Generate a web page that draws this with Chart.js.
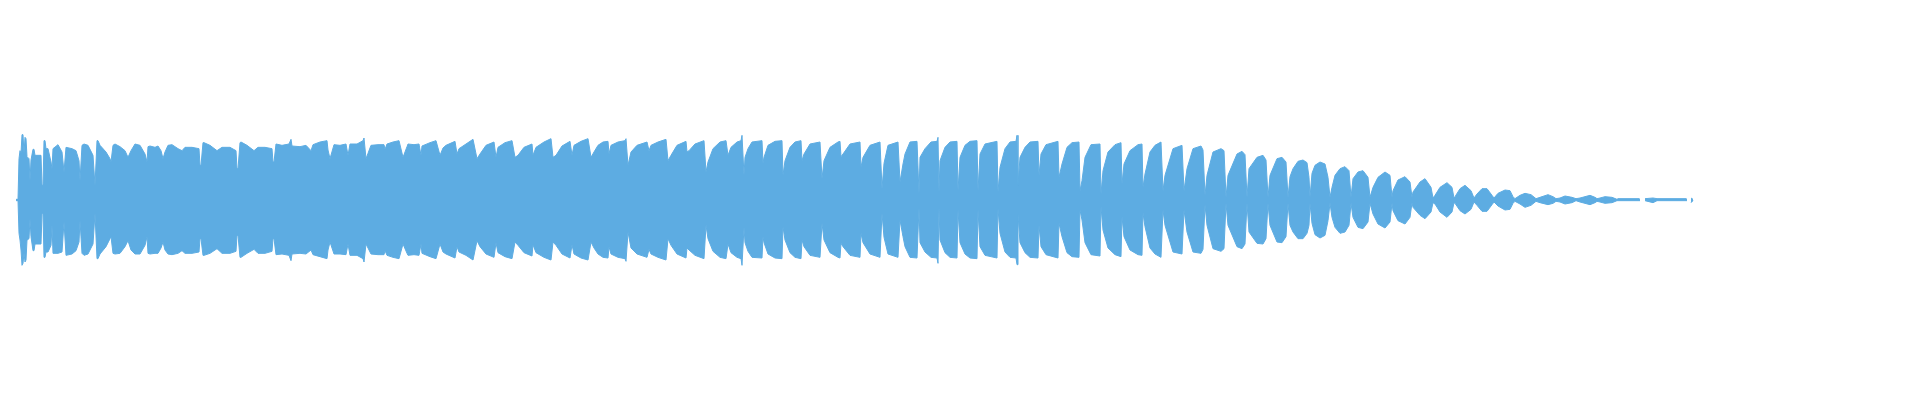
<!DOCTYPE html>
<html>
<head>
<meta charset="utf-8">
<title>Waveform</title>
<script src="https://cdn.jsdelivr.net/npm/chart.js@4/dist/chart.umd.min.js"></script>
<style>
  html, body { margin: 0; padding: 0; background: #ffffff; }
  canvas { display: block; }
</style>
</head>
<body>
<canvas id="wave" width="1920" height="400"></canvas>
<script>
// peak frames (10 ms each) with the max / min sample of each frame
const frame = [
  16, 18, 19, 20, 21, 22, 23, 24, 25, 26,
  27, 29, 30, 31, 33, 34, 35, 41, 42, 43,
  44, 45, 46, 48, 51, 52, 53, 58, 62, 64,
  66, 72, 76, 79, 80, 82, 84, 88, 93, 95,
  97, 98, 100, 106, 110, 111, 113, 115, 120, 125,
  128, 131, 135, 140, 145, 147, 148, 150, 155, 158,
  161, 163, 165, 168, 172, 178, 182, 185, 192, 199,
  200, 201, 203, 204, 210, 217, 222, 230, 236, 237,
  238, 240, 241, 247, 254, 258, 265, 272, 273, 274,
  276, 282, 289, 291, 292, 300, 306, 311, 313, 320,
  327, 328, 330, 334, 340, 346, 348, 350, 357, 363,
  364, 366, 368, 371, 378, 384, 385, 387, 393, 399,
  403, 407, 408, 414, 419, 421, 422, 430, 436, 440,
  443, 446, 455, 457, 459, 466, 473, 477, 480, 486,
  494, 496, 498, 505, 512, 515, 518, 524, 532, 533,
  536, 544, 551, 553, 556, 562, 570, 572, 574, 581,
  588, 591, 594, 598, 603, 608, 609, 611, 618, 625,
  626, 628, 631, 637, 647, 649, 651, 658, 666, 668,
  671, 677, 686, 687, 689, 695, 704, 706, 708, 713,
  720, 726, 728, 731, 737, 741, 742, 744, 745, 748,
  752, 762, 763, 764, 768, 775, 782, 783, 785, 790,
  795, 801, 802, 804, 810, 820, 822, 824, 830, 838,
  840, 841, 843, 850, 860, 861, 863, 870, 880, 882,
  884, 888, 898, 900, 903, 905, 910, 917, 919, 920,
  925, 931, 937, 938, 939, 940, 945, 950, 957, 958,
  960, 965, 970, 977, 978, 980, 985, 997, 998, 1000,
  1005, 1010, 1016, 1017, 1018, 1020, 1025, 1030, 1038, 1039,
  1041, 1046, 1058, 1059, 1062, 1067, 1072, 1079, 1080, 1082,
  1085, 1091, 1100, 1101, 1103, 1108, 1115, 1121, 1122, 1124,
  1130, 1138, 1142, 1143, 1145, 1150, 1155, 1161, 1163, 1165,
  1173, 1182, 1184, 1187, 1193, 1201, 1203, 1205, 1207, 1213,
  1221, 1224, 1226, 1228, 1237, 1242, 1245, 1247, 1249, 1257,
  1263, 1266, 1268, 1270, 1277, 1282, 1286, 1288, 1290, 1293,
  1298, 1303, 1307, 1309, 1310, 1312, 1315, 1320, 1325, 1328,
  1330, 1332, 1335, 1340, 1345, 1349, 1351, 1353, 1358, 1363,
  1368, 1370, 1373, 1378, 1385, 1390, 1392, 1393, 1398, 1405,
  1410, 1412, 1413, 1420, 1425, 1431, 1433, 1435, 1440, 1447,
  1452, 1454, 1455, 1460, 1465, 1471, 1474, 1477, 1482, 1487,
  1492, 1494, 1498, 1505, 1510, 1513, 1515, 1520, 1525, 1531,
  1536, 1540, 1548, 1553, 1556, 1560, 1565, 1572, 1576, 1580,
  1590, 1595, 1597, 1600, 1605, 1612, 1617, 1618, 1639, 1640,
  1642, 1645, 1653, 1657, 1658, 1686, 1687, 1689, 1691, 1693
];

const peakHi = [
  0.01, 0.01, 0.62, 0.74, 0.70, 0.98, 0.98, 0.70, 0.94, 0.92,
  0.65, 0.62, 0.29, 0.60, 0.76, 0.76, 0.67, 0.67, 0.22, 0.22,
  0.89, 0.89, 0.77, 0.77, 0.57, 0.47, 0.77, 0.83, 0.72, 0.42,
  0.79, 0.77, 0.74, 0.59, 0.29, 0.82, 0.84, 0.82, 0.67, 0.22,
  0.89, 0.89, 0.82, 0.72, 0.62, 0.57, 0.82, 0.84, 0.80, 0.74,
  0.64, 0.74, 0.84, 0.82, 0.69, 0.57, 0.80, 0.81, 0.79, 0.81,
  0.74, 0.62, 0.72, 0.82, 0.83, 0.77, 0.74, 0.79, 0.79, 0.77,
  0.52, 0.52, 0.86, 0.86, 0.82, 0.74, 0.79, 0.79, 0.74, 0.47,
  0.47, 0.86, 0.87, 0.82, 0.74, 0.79, 0.79, 0.77, 0.57, 0.57,
  0.84, 0.82, 0.84, 0.91, 0.81, 0.80, 0.82, 0.74, 0.83, 0.87,
  0.89, 0.75, 0.62, 0.83, 0.82, 0.84, 0.67, 0.84, 0.84, 0.89,
  0.93, 0.62, 0.70, 0.82, 0.83, 0.83, 0.76, 0.84, 0.87, 0.89,
  0.64, 0.80, 0.84, 0.83, 0.84, 0.67, 0.81, 0.86, 0.89, 0.67,
  0.78, 0.82, 0.88, 0.69, 0.77, 0.84, 0.91, 0.62, 0.69, 0.82,
  0.87, 0.64, 0.79, 0.86, 0.89, 0.64, 0.67, 0.79, 0.84, 0.67,
  0.79, 0.87, 0.92, 0.64, 0.67, 0.81, 0.88, 0.67, 0.82, 0.88,
  0.92, 0.64, 0.72, 0.82, 0.87, 0.88, 0.69, 0.82, 0.87, 0.89,
  0.92, 0.52, 0.72, 0.82, 0.87, 0.74, 0.82, 0.87, 0.91, 0.59,
  0.67, 0.82, 0.88, 0.72, 0.74, 0.84, 0.89, 0.42, 0.57, 0.77,
  0.87, 0.89, 0.67, 0.79, 0.87, 0.89, 0.97, 0.37, 0.64, 0.77,
  0.87, 0.89, 0.55, 0.64, 0.82, 0.88, 0.89, 0.37, 0.59, 0.79,
  0.87, 0.89, 0.59, 0.69, 0.84, 0.87, 0.32, 0.59, 0.79, 0.87,
  0.88, 0.65, 0.69, 0.84, 0.87, 0.49, 0.64, 0.82, 0.87, 0.17,
  0.55, 0.82, 0.87, 0.27, 0.54, 0.69, 0.87, 0.88, 0.10, 0.64,
  0.77, 0.87, 0.88, 0.94, 0.12, 0.59, 0.79, 0.87, 0.88, 0.14,
  0.64, 0.82, 0.88, 0.89, 0.14, 0.69, 0.84, 0.88, 0.12, 0.49,
  0.77, 0.87, 0.88, 0.97, 0.22, 0.64, 0.79, 0.87, 0.88, 0.37,
  0.69, 0.83, 0.88, 0.34, 0.54, 0.79, 0.86, 0.87, 0.14, 0.29,
  0.64, 0.83, 0.84, 0.09, 0.44, 0.72, 0.83, 0.86, 0.24, 0.54,
  0.74, 0.83, 0.84, 0.19, 0.39, 0.72, 0.82, 0.87, 0.14, 0.37,
  0.77, 0.82, 0.14, 0.47, 0.77, 0.81, 0.75, 0.07, 0.37, 0.72,
  0.77, 0.74, 0.04, 0.37, 0.69, 0.73, 0.68, 0.04, 0.47, 0.64,
  0.67, 0.60, 0.04, 0.37, 0.62, 0.64, 0.57, 0.04, 0.35, 0.47,
  0.58, 0.60, 0.56, 0.34, 0.04, 0.40, 0.52, 0.57, 0.54, 0.34,
  0.04, 0.19, 0.37, 0.47, 0.50, 0.44, 0.04, 0.32, 0.42, 0.44,
  0.34, 0.04, 0.19, 0.34, 0.42, 0.37, 0.04, 0.14, 0.30, 0.35,
  0.27, 0.04, 0.12, 0.27, 0.32, 0.19, 0.03, 0.07, 0.19, 0.26,
  0.19, 0.03, 0.05, 0.17, 0.22, 0.14, 0.03, 0.09, 0.17, 0.17,
  0.07, 0.03, 0.10, 0.15, 0.14, 0.05, 0.02, 0.07, 0.10, 0.08,
  0.02, 0.04, 0.08, 0.05, 0.02, 0.03, 0.06, 0.04, 0.02, 0.03,
  0.07, 0.04, 0.02, 0.03, 0.05, 0.04, 0.01, 0.02, 0.02, 0.01,
  null, 0.02, 0.03, 0.02, 0.02, 0.02, 0.01, null, 0.03, 0.01
];

const peakLo = [
  -0.01, -0.01, -0.50, -0.60, -0.75, -0.98, -0.95, -0.80, -0.93, -0.90,
  -0.60, -0.58, -0.28, -0.55, -0.76, -0.76, -0.66, -0.66, -0.20, -0.20,
  -0.86, -0.86, -0.78, -0.78, -0.68, -0.38, -0.80, -0.80, -0.78, -0.33,
  -0.83, -0.81, -0.76, -0.63, -0.31, -0.80, -0.83, -0.81, -0.66, -0.20,
  -0.88, -0.88, -0.81, -0.70, -0.58, -0.55, -0.80, -0.81, -0.80, -0.70,
  -0.61, -0.75, -0.81, -0.81, -0.68, -0.55, -0.80, -0.81, -0.80, -0.80,
  -0.72, -0.63, -0.75, -0.81, -0.82, -0.80, -0.76, -0.80, -0.80, -0.78,
  -0.58, -0.58, -0.83, -0.83, -0.80, -0.73, -0.80, -0.80, -0.77, -0.53,
  -0.53, -0.86, -0.86, -0.80, -0.74, -0.80, -0.80, -0.77, -0.58, -0.58,
  -0.82, -0.81, -0.83, -0.91, -0.81, -0.80, -0.81, -0.75, -0.82, -0.85,
  -0.88, -0.75, -0.63, -0.81, -0.81, -0.82, -0.66, -0.83, -0.83, -0.88,
  -0.93, -0.66, -0.72, -0.81, -0.82, -0.82, -0.76, -0.83, -0.86, -0.88,
  -0.66, -0.80, -0.83, -0.82, -0.83, -0.66, -0.80, -0.85, -0.88, -0.66,
  -0.78, -0.81, -0.87, -0.70, -0.78, -0.83, -0.90, -0.61, -0.70, -0.81,
  -0.86, -0.64, -0.79, -0.85, -0.88, -0.63, -0.68, -0.79, -0.84, -0.67,
  -0.79, -0.86, -0.90, -0.63, -0.68, -0.81, -0.87, -0.67, -0.81, -0.87,
  -0.90, -0.63, -0.72, -0.81, -0.86, -0.87, -0.70, -0.81, -0.86, -0.88,
  -0.92, -0.48, -0.72, -0.81, -0.86, -0.74, -0.81, -0.86, -0.90, -0.58,
  -0.68, -0.81, -0.87, -0.72, -0.75, -0.83, -0.88, -0.38, -0.58, -0.77,
  -0.86, -0.88, -0.66, -0.79, -0.86, -0.88, -0.98, -0.41, -0.64, -0.77,
  -0.86, -0.87, -0.55, -0.64, -0.81, -0.87, -0.88, -0.40, -0.60, -0.79,
  -0.86, -0.88, -0.60, -0.70, -0.83, -0.86, -0.35, -0.60, -0.79, -0.86,
  -0.87, -0.65, -0.70, -0.83, -0.86, -0.50, -0.64, -0.81, -0.86, -0.20,
  -0.56, -0.81, -0.86, -0.30, -0.55, -0.70, -0.86, -0.87, -0.12, -0.64,
  -0.78, -0.86, -0.87, -0.95, -0.12, -0.60, -0.79, -0.86, -0.87, -0.15,
  -0.64, -0.81, -0.87, -0.88, -0.15, -0.70, -0.83, -0.87, -0.13, -0.50,
  -0.78, -0.86, -0.87, -0.97, -0.22, -0.64, -0.79, -0.86, -0.87, -0.38,
  -0.70, -0.82, -0.87, -0.35, -0.55, -0.79, -0.85, -0.86, -0.15, -0.30,
  -0.64, -0.82, -0.84, -0.10, -0.45, -0.72, -0.82, -0.85, -0.25, -0.55,
  -0.75, -0.82, -0.83, -0.20, -0.40, -0.72, -0.81, -0.86, -0.15, -0.38,
  -0.78, -0.81, -0.15, -0.48, -0.78, -0.80, -0.74, -0.07, -0.38, -0.73,
  -0.77, -0.73, -0.05, -0.38, -0.70, -0.73, -0.66, -0.05, -0.48, -0.65,
  -0.66, -0.58, -0.05, -0.38, -0.63, -0.64, -0.55, -0.05, -0.38, -0.48,
  -0.58, -0.58, -0.50, -0.38, -0.05, -0.35, -0.52, -0.57, -0.53, -0.31,
  -0.05, -0.26, -0.41, -0.50, -0.48, -0.38, -0.05, -0.26, -0.41, -0.43,
  -0.33, -0.05, -0.21, -0.36, -0.42, -0.33, -0.05, -0.16, -0.31, -0.36,
  -0.26, -0.04, -0.11, -0.23, -0.28, -0.18, -0.04, -0.06, -0.18, -0.26,
  -0.18, -0.04, -0.05, -0.16, -0.21, -0.14, -0.03, -0.08, -0.17, -0.17,
  -0.07, -0.03, -0.09, -0.15, -0.14, -0.05, -0.02, -0.06, -0.11, -0.08,
  -0.02, -0.04, -0.07, -0.05, -0.02, -0.03, -0.06, -0.04, -0.01, -0.03,
  -0.07, -0.04, -0.02, -0.03, -0.05, -0.04, -0.01, -0.01, -0.01, -0.01,
  null, -0.01, -0.04, -0.01, -0.01, -0.01, -0.01, null, -0.04, -0.01
];

const waveColor = '#5DACE2';

const toPoints = (values) => frame.map((f, i) => ({ x: f, y: values[i] }));

const waveDataset = (values) => ({
  data: toPoints(values),
  fill: 'origin',
  backgroundColor: waveColor,
  borderColor: waveColor,
  borderWidth: 1,
  pointRadius: 0,
  tension: 0,
  spanGaps: false
});

const config = {
  type: 'line',
  data: {
    datasets: [waveDataset(peakHi), waveDataset(peakLo)]
  },
  options: {
    responsive: false,
    animation: false,
    events: [],
    layout: { padding: 0 },
    plugins: {
      legend: { display: false },
      tooltip: { enabled: false }
    },
    scales: {
      x: { type: 'linear', min: 0, max: 1920, display: false },
      y: { min: -3, max: 3, display: false }
    }
  }
};

new Chart(document.getElementById('wave'), config);
</script>
</body>
</html>
